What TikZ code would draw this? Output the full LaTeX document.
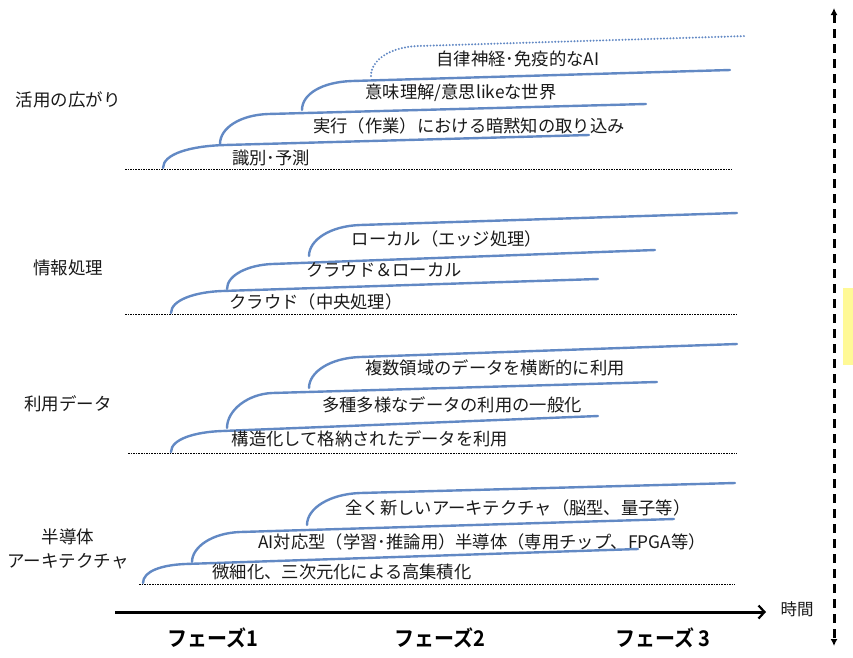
\documentclass[tikz,border=0pt]{standalone}
\usepackage{fontspec}
\setmainfont{Noto Sans CJK JP}[BoldFont={Noto Sans CJK JP Bold}]
\usetikzlibrary{arrows.meta}
\definecolor{curveblue}{RGB}{98,137,196}
\definecolor{txt}{RGB}{25,25,25}
\definecolor{hilite}{RGB}{255,249,150}
\begin{document}
\begin{tikzpicture}[x=1pt,y=-1pt,
  curve/.style={draw=curveblue, line width=2.4pt, line cap=round},
  dotcurve/.style={draw=curveblue, line width=2.2pt, line cap=round, dash pattern=on 0pt off 3.2pt},
  baseln/.style={draw=black, line width=0.6pt, dash pattern=on 1.6pt off 1pt},
  item/.style={font=\fontsize{17.3}{19}\selectfont, text=txt, inner sep=0pt},
  cat/.style={font=\fontsize{17.5}{24}\selectfont, text=txt, inner sep=0pt, align=center},
  phase/.style={font=\bfseries\fontsize{20}{22}\selectfont, text=black, inner sep=0pt, yscale=1.08},
  axisarrow/.style={draw=black, line width=3pt, -{Straight Barb[length=6pt,width=13pt,line width=2.2pt]}},
  timearrow/.style={draw=black, line width=3pt, dash pattern=on 9pt off 6pt, {Latex[length=7pt,width=7pt]}-{Latex[length=7pt,width=7pt]}}
]
\useasboundingbox (0,0) rectangle (853,657);
\fill[hilite] (843,288) rectangle (853,365);

% ---------- group 1 ----------
\coordinate (b1s) at (125,169); \coordinate (b1e) at (732,169);
\draw[baseln] (b1s) -- (b1e);
\draw[curve] (163,168) .. controls (163,154) and (190,146) .. (225,145) -- (589,135);
\draw[curve] (220,144) .. controls (220,128) and (240,115) .. (268,114) -- (646,104);
\draw[curve] (302,110) .. controls (302,94) and (322,82) .. (352,81) -- (730,70);
\draw[dotcurve] (371,76) .. controls (371,60) and (390,47) .. (418,46) -- (747,36);
\node[item] (t11) at (271,158) {識別･予測};
\node[item] (t12) at (469,126) {実行（作業）における暗黙知の取り込み};
\node[item] (t13) at (461,93) {意味理解/意思likeな世界};
\node[item] (t14) at (518,59) {自律神経･免疫的なAI};
\node[cat] (c1) at (68,100) {活用の広がり};

% ---------- group 2 ----------
\coordinate (b2s) at (125,314); \coordinate (b2e) at (737,314);
\draw[baseln] (b2s) -- (b2e);
\draw[curve] (171,313) .. controls (171,300) and (195,292) .. (222,291) -- (598,279);
\draw[curve] (227,289) .. controls (227,275) and (248,265) .. (272,264) -- (655,250);
\draw[curve] (309,256) .. controls (309,240) and (330,226) .. (360,225) -- (737,213);
\node[item] (t21) at (316,302) {クラウド（中央処理）};
\node[item] (t22) at (384,270) {クラウド＆ローカル};
\node[item] (t23) at (447,239) {ローカル（エッジ処理）};
\node[cat] (c2) at (68,268) {情報処理};

% ---------- group 3 ----------
\coordinate (b3s) at (128,453); \coordinate (b3e) at (737,453);
\draw[baseln] (b3s) -- (b3e);
\draw[curve] (171,452) .. controls (171,439) and (195,432) .. (222,431) -- (598,416);
\draw[curve] (227,428) .. controls (227,410) and (248,394) .. (272,393) -- (657,382);
\draw[curve] (309,388) .. controls (309,372) and (330,358) .. (360,357) -- (737,344);
\node[item] (t31) at (370,439) {構造化して格納されたデータを利用};
\node[item] (t32) at (452,405) {多種多様なデータの利用の一般化};
\node[item] (t33) at (495,368) {複数領域のデータを横断的に利用};
\node[cat] (c3) at (68,404) {利用データ};

% ---------- group 4 ----------
\coordinate (b4s) at (139,584); \coordinate (b4e) at (735,584);
\draw[baseln] (b4s) -- (b4e);
\draw[curve] (143,583) .. controls (143,571) and (162,565) .. (185,564) -- (638,549);
\draw[curve] (192,562) .. controls (192,547) and (212,533) .. (240,532) -- (674,519);
\draw[curve] (307,525) .. controls (307,508) and (330,494) .. (360,493) -- (735,483);
\node[item] (t41) at (342,572) {微細化、三次元化による高集積化};
\node[item] (t42) at (482,542) {AI対応型（学習･推論用）半導体（専用チップ、FPGA等）};
\node[item] (t43) at (518,508) {全く新しいアーキテクチャ（脳型、量子等）};
\node[cat] (c4) at (68,549) {半導体\\アーキテクチャ};

% ---------- axes ----------
\coordinate (ax0) at (115,612); \coordinate (ax1) at (766,612);
\draw[axisarrow] (ax0) -- (ax1);
\node[font=\fontsize{16.5}{18}\selectfont, text=txt, inner sep=0pt] (time) at (797,609) {時間};
\node[phase] (p1) at (213,638) {フェーズ1};
\node[phase] (p2) at (440,638) {フェーズ2};
\node[phase] (p3) at (663,638) {フェーズ 3};
\coordinate (v0) at (834,8); \coordinate (v1) at (834,646);
\draw[timearrow] (v0) -- (v1);
\end{tikzpicture}
\end{document}
